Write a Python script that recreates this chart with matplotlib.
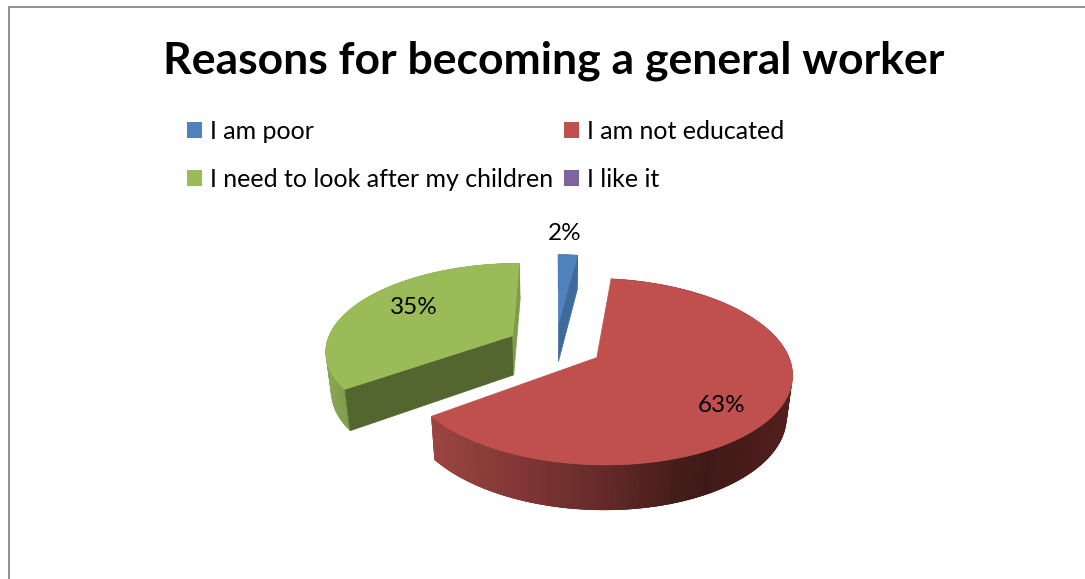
import numpy as np
import matplotlib
matplotlib.use("Agg")
import matplotlib.pyplot as plt
from matplotlib.colors import to_rgb
from matplotlib.patches import Patch, Polygon

plt.rcParams["font.family"] = ["Lato", "DejaVu Sans"]

# chart data
title = "Reasons for becoming a general worker"
labels = ["I am poor", "I am not educated", "I need to look after my children", "I like it"]
values = [2, 63, 35, 0]
colors = ["#4f81bd", "#c0504d", "#9bbb59", "#8064a2"]

# pie geometry, in image pixels
CX, CY = 555.5, 346
RX, RY = 192, 91
PERSPECTIVE = 0.15
EXPLODE = 0.25
DEPTH = 41
VANISH_Y = -132

# shading of the side walls: start edge, end edge, and x -> colour stops of the rim
start_wall = [None, None, "#536630"]
end_wall = ["#3f6a9c", None, "#7f9c4a"]
rim_stops = [
    ([557, 576], ["#3f6a9c", "#3f6a9c"]),
    ([431, 530, 600, 680, 710, 793], ["#9b4542", "#7d3533", "#652b29", "#451c1a", "#3f1918", "#521f1e"]),
    ([324, 351], ["#8aa855", "#7d9a49"]),
]
label_pos = [(565, 234), (722, 405), (414, 308)]


def project(theta, mid, r=1.0, bottom=False):
    # clockwise angle from 12 o'clock -> pixel, for a slice exploded along mid
    ax_x = CX + EXPLODE * RX * np.sin(mid)
    ax_y = CY - EXPLODE * RY * np.cos(mid)
    scale = (ax_y - VANISH_Y) / (357 - VANISH_Y)
    u = r * np.sin(theta)
    v = -r * np.cos(theta)
    s = 1 / (1 - PERSPECTIVE * v)
    y = ax_y + RY * scale ** 2 * v * s
    x = ax_x + RX * scale * u * s + (CX - ax_x) * (ax_y - y) / (ax_y - VANISH_Y)
    if bottom:
        d = DEPTH * scale * s ** 0.6
        y = y + d
        x = x + (CX - x) * d / 1700
    return np.column_stack([x, y]) if np.ndim(theta) else np.array([x, y])


def blend(x, stops):
    rgb = np.array([to_rgb(c) for c in stops[1]])
    return [np.interp(x, stops[0], rgb[:, i]) for i in range(3)]


fig = plt.figure(figsize=(10.85, 5.79), dpi=100)
ax = fig.add_axes([0, 0, 1, 1])
ax.set_xlim(0, 1085)
ax.set_ylim(579, 0)
ax.axis("off")

# chart frame, cropped at the right and at the bottom
ax.plot([9, 9, 1085], [579, 7, 7], color="#868686", lw=1.3, solid_joinstyle="miter", clip_on=False)

ax.text(553.5, 61, title, ha="center", va="center", fontsize=32, fontweight="bold", color="black")

# slice angles
edges = np.radians(np.concatenate([[0], np.cumsum(values)]) * 3.6)

# back slices first
for i in [2, 0, 1]:
    a, b = edges[i], edges[i + 1]
    mid = (a + b) / 2
    theta = np.linspace(a, b, 160)

    # outer wall, in small overlapping strips for the gradient
    top = project(theta, mid)
    low = project(theta, mid, bottom=True)
    for j in range(len(theta) - 1):
        k = min(j + 3, len(theta) - 1)
        col = blend((top[j, 0] + top[j + 1, 0]) / 2, rim_stops[i])
        ax.add_patch(Polygon([top[j], top[k], low[k], low[j]], fc=col, ec="none"))

    apex_top = project(0.0, mid, r=0.0)
    apex_low = project(0.0, mid, r=0.0, bottom=True)
    for edge, col in [(a, start_wall[i]), (b, end_wall[i])]:
        if col:
            ax.add_patch(Polygon([apex_top, project(edge, mid), project(edge, mid, bottom=True), apex_low],
                                 fc=col, ec=col, lw=0.5))

    ax.add_patch(Polygon(np.vstack([[apex_top], top]), fc=colors[i], ec=colors[i], lw=0.5))

    ax.text(*label_pos[i], f"{values[i]}%", ha="center", va="center", fontsize=17.5, color="black")

# legend fills columns first
order = [0, 2, 1, 3]
handles = [Patch(fc=colors[i], ec="none", label=labels[i]) for i in order]
ax.legend(handles=handles, ncol=2, loc="upper left", bbox_to_anchor=(187 / 1085, 1 - 120 / 579),
          frameon=False, fontsize=18, handlelength=0.6, handleheight=0.6, handletextpad=0.3,
          labelspacing=1.0, columnspacing=0.46, borderpad=0, borderaxespad=0, labelcolor="black")

fig.savefig("out.png", dpi=100, facecolor="white")
